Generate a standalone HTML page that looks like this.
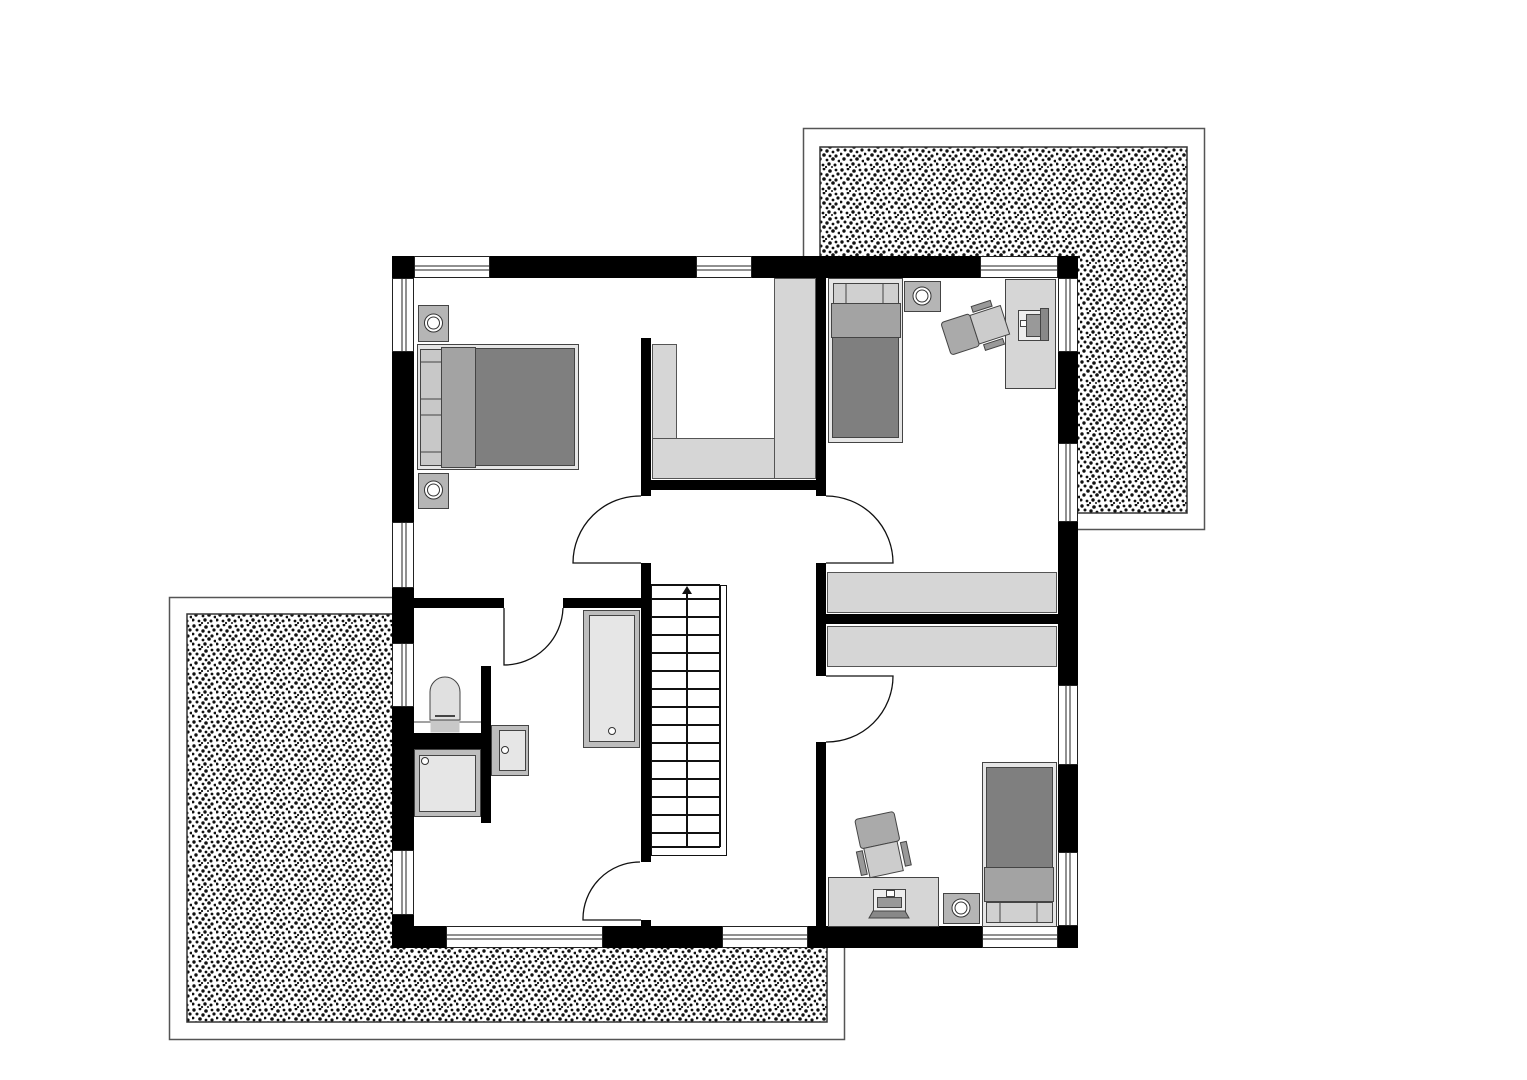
<!DOCTYPE html>
<html><head><meta charset="utf-8"><style>html,body{margin:0;padding:0;background:#fff;}svg{display:block}</style></head>
<body>
<svg width="1527" height="1080" viewBox="0 0 1527 1080" xmlns="http://www.w3.org/2000/svg">
<defs>
<pattern id="sp" width="24" height="24" patternUnits="userSpaceOnUse">
<rect width="24" height="24" fill="#fff"/>
<g fill="#111">
<circle cx="2" cy="2" r="1.7"/><circle cx="8" cy="1" r="1.4"/><circle cx="14" cy="3" r="1.8"/><circle cx="20" cy="2" r="1.4"/>
<circle cx="5" cy="6" r="1.5"/><circle cx="11" cy="7" r="1.7"/><circle cx="17" cy="8" r="1.4"/><circle cx="22" cy="6" r="1.6"/>
<circle cx="1" cy="10" r="1.4"/><circle cx="8" cy="11" r="1.8"/><circle cx="14" cy="12" r="1.4"/><circle cx="20" cy="12" r="1.6"/>
<circle cx="4" cy="15" r="1.7"/><circle cx="11" cy="16" r="1.4"/><circle cx="17" cy="15" r="1.8"/><circle cx="23" cy="17" r="1.4"/>
<circle cx="1" cy="20" r="1.5"/><circle cx="7" cy="21" r="1.4"/><circle cx="13" cy="20" r="1.7"/><circle cx="19" cy="21" r="1.5"/>
<circle cx="10" cy="23" r="1.1"/><circle cx="16" cy="23" r="1.0"/>
</g>
</pattern>
</defs>

<rect x="803.5" y="128.5" width="401" height="401" fill="#fff" stroke="#555" stroke-width="1.5"/>
<rect x="820" y="147" width="367" height="366" fill="url(#sp)" stroke="#333" stroke-width="1.5"/>
<rect x="169.5" y="597.5" width="675" height="442" fill="#fff" stroke="#555" stroke-width="1.5"/>
<rect x="187" y="614" width="640" height="408" fill="url(#sp)" stroke="#333" stroke-width="1.5"/>

<rect x="392" y="256" width="686" height="692" fill="#fff"/>

<g fill="#000">
<rect x="392" y="256" width="22" height="22"/>
<rect x="490" y="256" width="206" height="22"/>
<rect x="752" y="256" width="228" height="22"/>
<rect x="1058" y="256" width="20" height="22"/>
<rect x="392" y="352" width="22" height="170"/>
<rect x="392" y="588" width="22" height="55"/>
<rect x="392" y="707" width="22" height="143"/>
<rect x="392" y="915" width="22" height="33"/>
<rect x="392" y="926" width="54" height="22"/>
<rect x="603" y="926" width="119" height="22"/>
<rect x="808" y="926" width="174" height="22"/>
<rect x="1058" y="926" width="20" height="22"/>
<rect x="1058" y="352" width="20" height="91"/>
<rect x="1058" y="522" width="20" height="163"/>
<rect x="1058" y="765" width="20" height="87"/>
<rect x="641" y="338" width="10" height="158"/>
<rect x="641" y="480" width="185" height="10"/>
<rect x="816" y="278" width="10" height="218"/>
<rect x="816" y="563" width="10" height="113"/>
<rect x="826" y="614" width="232" height="10"/>
<rect x="816" y="742" width="10" height="206"/>
<rect x="641" y="563" width="10" height="299"/>
<rect x="641" y="920" width="10" height="8"/>
<rect x="414" y="598" width="90" height="10"/>
<rect x="563" y="598" width="78" height="10"/>
<rect x="481" y="666" width="10" height="157"/>
<rect x="414" y="733" width="77" height="16"/>
</g>

<g fill="#fff" stroke="#222" stroke-width="1">
<rect x="414.5" y="256.5" width="75" height="21"/><line x1="414" y1="266" x2="490" y2="266"/><line x1="414" y1="270" x2="490" y2="270"/>
<rect x="696.5" y="256.5" width="55" height="21"/><line x1="696" y1="266" x2="752" y2="266"/><line x1="696" y1="270" x2="752" y2="270"/>
<rect x="980.5" y="256.5" width="77" height="21"/><line x1="980" y1="266" x2="1058" y2="266"/><line x1="980" y1="270" x2="1058" y2="270"/>
<rect x="392.5" y="278.5" width="21" height="73"/><line x1="402" y1="278" x2="402" y2="352"/><line x1="406" y1="278" x2="406" y2="352"/>
<rect x="392.5" y="522.5" width="21" height="65"/><line x1="402" y1="522" x2="402" y2="588"/><line x1="406" y1="522" x2="406" y2="588"/>
<rect x="392.5" y="643.5" width="21" height="63"/><line x1="402" y1="643" x2="402" y2="707"/><line x1="406" y1="643" x2="406" y2="707"/>
<rect x="392.5" y="850.5" width="21" height="64"/><line x1="402" y1="850" x2="402" y2="915"/><line x1="406" y1="850" x2="406" y2="915"/>
<rect x="446.5" y="926.5" width="156" height="21"/><line x1="446" y1="935" x2="603" y2="935"/><line x1="446" y1="939" x2="603" y2="939"/>
<rect x="722.5" y="926.5" width="85" height="21"/><line x1="722" y1="935" x2="808" y2="935"/><line x1="722" y1="939" x2="808" y2="939"/>
<rect x="982.5" y="926.5" width="75" height="21"/><line x1="982" y1="935" x2="1058" y2="935"/><line x1="982" y1="939" x2="1058" y2="939"/>
<rect x="1058.5" y="278.5" width="19" height="73"/><line x1="1066" y1="278" x2="1066" y2="352"/><line x1="1070" y1="278" x2="1070" y2="352"/>
<rect x="1058.5" y="443.5" width="19" height="78"/><line x1="1066" y1="443" x2="1066" y2="522"/><line x1="1070" y1="443" x2="1070" y2="522"/>
<rect x="1058.5" y="685.5" width="19" height="79"/><line x1="1066" y1="685" x2="1066" y2="765"/><line x1="1070" y1="685" x2="1070" y2="765"/>
<rect x="1058.5" y="852.5" width="19" height="73"/><line x1="1066" y1="852" x2="1066" y2="926"/><line x1="1070" y1="852" x2="1070" y2="926"/>
</g>

<g fill="none" stroke="#111" stroke-width="1.3">
<path d="M641 496 A67 67 0 0 0 573 563 L641 563"/>
<path d="M826 496 A67 67 0 0 1 893 563 L826 563"/>
<path d="M826 742 A66 66 0 0 0 893 676 L826 676"/>
<path d="M640 862 A57 57 0 0 0 583 920 L641 920"/>
<path d="M504 608 L504 665 A59 59 0 0 0 563 608"/>
</g>

<g stroke="#111" fill="none">
<rect x="651.5" y="585.5" width="75" height="270" stroke-width="1"/>
<line x1="720" y1="585" x2="720" y2="847" stroke-width="2"/>
<g stroke-width="2">
<line x1="651" y1="585" x2="720" y2="585"/>
<line x1="651" y1="599" x2="720" y2="599"/><line x1="651" y1="617" x2="720" y2="617"/><line x1="651" y1="635" x2="720" y2="635"/>
<line x1="651" y1="653" x2="720" y2="653"/><line x1="651" y1="671" x2="720" y2="671"/><line x1="651" y1="689" x2="720" y2="689"/>
<line x1="651" y1="707" x2="720" y2="707"/><line x1="651" y1="725" x2="720" y2="725"/><line x1="651" y1="743" x2="720" y2="743"/>
<line x1="651" y1="761" x2="720" y2="761"/><line x1="651" y1="779" x2="720" y2="779"/><line x1="651" y1="797" x2="720" y2="797"/>
<line x1="651" y1="815" x2="720" y2="815"/><line x1="651" y1="833" x2="720" y2="833"/><line x1="651" y1="847" x2="720" y2="847"/>
<line x1="687" y1="592" x2="687" y2="847"/>
</g>
</g>
<polygon points="687,586 682,594 692,594" fill="#111"/>

<g stroke="#444" stroke-width="1">
<rect x="417.5" y="344.5" width="161" height="125" fill="#e6e6e6"/>
<rect x="475.5" y="348.5" width="99" height="117" fill="#7f7f7f"/>
<rect x="441.5" y="347.5" width="34" height="120" fill="#a3a3a3"/>
<rect x="420.5" y="349.5" width="21" height="116" fill="#c8c8c8"/>
<line x1="420" y1="362" x2="441" y2="362"/><line x1="420" y1="399" x2="441" y2="399"/><line x1="420" y1="415" x2="441" y2="415"/><line x1="420" y1="452" x2="441" y2="452"/>
<rect x="418.5" y="305.5" width="30" height="36" fill="#b5b5b5"/>
<rect x="418.5" y="473.5" width="30" height="35" fill="#b5b5b5"/>
</g>
<g fill="#fff" stroke="#333" stroke-width="1">
<circle cx="433.5" cy="323" r="9"/><circle cx="433.5" cy="323" r="6"/>
<circle cx="433.5" cy="490" r="9"/><circle cx="433.5" cy="490" r="6"/>
</g>

<g fill="#d6d6d6" stroke="#555" stroke-width="1">
<rect x="652.5" y="344.5" width="24" height="95"/>
<rect x="652.5" y="438.5" width="122" height="40"/>
<rect x="774.5" y="278.5" width="41" height="200"/>
<rect x="827.5" y="572.5" width="229" height="40"/>
<rect x="827.5" y="626.5" width="229" height="40"/>
</g>

<g stroke="#444" stroke-width="1">
<rect x="828.5" y="278.5" width="74" height="164" fill="#e6e6e6"/>
<rect x="832.5" y="337.5" width="66" height="100" fill="#7f7f7f"/>
<rect x="831.5" y="303.5" width="69" height="34" fill="#a3a3a3"/>
<rect x="833.5" y="283.5" width="65" height="20" fill="#d0d0d0"/>
<line x1="846" y1="283" x2="846" y2="303"/><line x1="883" y1="283" x2="883" y2="303"/>
<rect x="904.5" y="281.5" width="36" height="30" fill="#b5b5b5"/>
<rect x="1005.5" y="279.5" width="50" height="109" fill="#d6d6d6"/>
<rect x="1018.5" y="310.5" width="22" height="30" fill="#eee"/>
<rect x="1026.5" y="314.5" width="14" height="22" fill="#999"/>
<rect x="1040.5" y="308.5" width="8" height="32" fill="#888"/>
<rect x="1020.5" y="320.5" width="6" height="6" fill="#fff"/>
<g transform="rotate(-18 972 330)">
<rect x="944.5" y="313.5" width="30" height="34" fill="#aaa" rx="3"/>
<rect x="974.5" y="315.5" width="32" height="30" fill="#ccc"/>
<rect x="978.5" y="307.5" width="20" height="6" fill="#999"/>
<rect x="978.5" y="347.5" width="20" height="6" fill="#999"/>
</g>
</g>
<g fill="#fff" stroke="#333" stroke-width="1"><circle cx="922" cy="296" r="9"/><circle cx="922" cy="296" r="6"/></g>

<g stroke="#444" stroke-width="1">
<rect x="982.5" y="762.5" width="74" height="164" fill="#e6e6e6"/>
<rect x="986.5" y="767.5" width="66" height="100" fill="#7f7f7f"/>
<rect x="984.5" y="867.5" width="69" height="34" fill="#a3a3a3"/>
<rect x="986.5" y="902.5" width="66" height="20" fill="#d0d0d0"/>
<line x1="1000" y1="902" x2="1000" y2="922"/><line x1="1037" y1="902" x2="1037" y2="922"/>
<rect x="943.5" y="893.5" width="36" height="30" fill="#b5b5b5"/>
<rect x="828.5" y="877.5" width="110" height="49" fill="#d6d6d6"/>
<rect x="873.5" y="889.5" width="32" height="24" fill="#eee"/>
<rect x="877.5" y="897.5" width="24" height="10" fill="#999"/>
<polygon points="869,918 909,918 905,911 873,911" fill="#888"/>
<rect x="886.5" y="890.5" width="8" height="6" fill="#fff"/>
<g transform="rotate(-12 882 845)">
<rect x="860.5" y="814.5" width="40" height="30" fill="#aaa" rx="3"/>
<rect x="863.5" y="844.5" width="34" height="30" fill="#ccc"/>
<rect x="855.5" y="846.5" width="6" height="24" fill="#999"/>
<rect x="900.5" y="846.5" width="6" height="24" fill="#999"/>
</g>
</g>
<g fill="#fff" stroke="#333" stroke-width="1"><circle cx="961" cy="908" r="9"/><circle cx="961" cy="908" r="6"/></g>

<g stroke="#444" stroke-width="1">
<rect x="583.5" y="610.5" width="56" height="137" fill="#bdbdbd"/>
<rect x="589.5" y="615.5" width="45" height="126" fill="#e6e6e6"/>
<line x1="414" y1="722" x2="481" y2="722"/>
<rect x="430.5" y="710.5" width="29" height="22" fill="#c8c8c8" stroke="none"/>
<path d="M430 720 L430 692 A15 15 0 0 1 460 692 L460 720 Z" fill="#e0e0e0"/>
<line x1="435" y1="716" x2="455" y2="716" stroke-width="2"/>
<rect x="414.5" y="749.5" width="66" height="67" fill="#bdbdbd"/>
<rect x="419.5" y="755.5" width="56" height="56" fill="#e6e6e6"/>
<rect x="491.5" y="725.5" width="37" height="50" fill="#bdbdbd"/>
<rect x="499.5" y="730.5" width="26" height="40" fill="#e6e6e6"/>
</g>
<g fill="#fff" stroke="#333" stroke-width="1">
<circle cx="612" cy="731" r="3.5"/><circle cx="425" cy="761" r="3.5"/><circle cx="505" cy="750" r="3.5"/>
</g>
</svg>
</body></html>
